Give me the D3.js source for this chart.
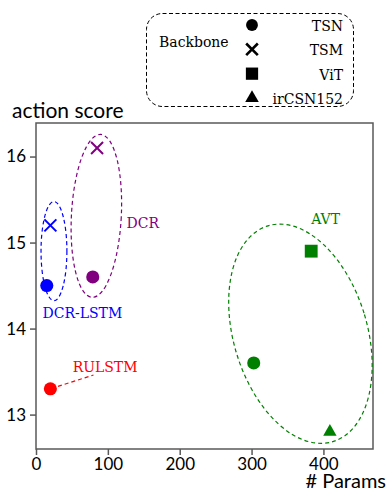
<!DOCTYPE html>
<html>
<head>
<meta charset="utf-8">
<script src="https://cdn.jsdelivr.net/npm/d3@7"></script>
<style>
    body { margin: 0; background: #fff; }
    svg text { fill: #000; }
</style>
</head>
<body>
<div id="chart"></div>
<script>
// data
const models = ["DCR-LSTM", "DCR-LSTM", "DCR", "DCR", "RULSTM", "AVT", "AVT", "AVT"];
const backbones = ["TSN", "TSM", "TSN", "TSM", "TSN", "TSN", "ViT", "irCSN152"];
const params = [15, 20, 79, 85, 20, 303, 383, 409];
const scores = [14.5, 15.2, 14.6, 16.1, 13.3, 13.6, 14.9, 12.8];

const groupNames = ["DCR-LSTM", "DCR", "AVT"];
const groupCx = [25, 84, 368];
const groupCy = [14.9, 15.31, 13.94];
const groupRx = [18, 34.7, 93];
const groupRy = [0.576, 0.948, 1.31];

const labelNames = ["DCR-LSTM", "DCR", "RULSTM", "AVT"];
const labelX = [9, 126, 51, 383];
const labelY = [14.12, 15.17, 13.5, 15.21];

const legendNames = ["TSN", "TSM", "ViT", "irCSN152"];
const xTicks = [0, 100, 200, 300, 400];
const yTicks = [13, 14, 15, 16];

const colors = {"DCR-LSTM": "#0000ff", "DCR": "#800080", "RULSTM": "#ff0000", "AVT": "#008000"};
const shapes = {"TSN": d3.symbolCircle, "TSM": d3.symbolX, "ViT": d3.symbolSquare, "irCSN152": d3.symbolTriangle};
const plotSizes = {"TSN": 135, "TSM": 95, "ViT": 165, "irCSN152": 78};
const legendSizes = {"TSN": 110, "TSM": 90, "ViT": 150, "irCSN152": 80};
const tilt = {"DCR-LSTM": 0, "DCR": 3, "AVT": -16.7};

const W = 388, H = 492;
const margin = {top: 123, right: 15, bottom: 43, left: 36};
const width = W - margin.left - margin.right;
const height = H - margin.top - margin.bottom;

const svg = d3.select("#chart").append("svg")
    .attr("width", W)
    .attr("height", H);

// legend box
const legend = svg.append("g").attr("class", "legend");
legend.append("rect")
    .attr("x", 146.5).attr("y", 13.5)
    .attr("width", 207).attr("height", 93)
    .attr("rx", 16)
    .attr("fill", "none")
    .attr("stroke", "#000")
    .attr("stroke-width", 1)
    .attr("stroke-dasharray", "4,2.5");

legend.append("text")
    .attr("x", 159).attr("y", 47)
    .attr("font-family", "DejaVu Serif")
    .attr("font-size", 14)
    .text("Backbone");

const ly = d3.scalePoint().domain(legendNames).range([25, 98]);

legendNames.forEach(name => {
    legend.append("path")
        .attr("transform", `translate(252, ${ly(name)})`)
        .attr("d", d3.symbol().type(shapes[name]).size(legendSizes[name])())
        .attr("fill", name === "TSM" ? "none" : "#000")
        .attr("stroke", name === "TSM" ? "#000" : "none")
        .attr("stroke-width", 2.6);
    legend.append("text")
        .attr("x", 343)
        .attr("y", ly(name) + 6)
        .attr("text-anchor", "end")
        .attr("font-family", "DejaVu Serif")
        .attr("font-size", 14)
        .text(name);
});

// plot area
const g = svg.append("g")
    .attr("transform", `translate(${margin.left}, ${margin.top})`);

const x = d3.scaleLinear().domain([0, 469]).range([0, width]);
const y = d3.scaleLinear().domain([12.6, 16.39]).range([height, 0]);

// frame
g.append("rect")
    .attr("width", width).attr("height", height)
    .attr("fill", "none")
    .attr("stroke", "#595959")
    .attr("stroke-width", 1.5);

const xAxis = g.append("g")
    .attr("transform", `translate(0, ${height})`)
    .call(d3.axisBottom(x).tickValues(xTicks).tickFormat(d3.format("d")).tickSize(6).tickPadding(3));
const yAxis = g.append("g")
    .call(d3.axisLeft(y).tickValues(yTicks).tickFormat(d3.format("d")).tickSize(6).tickPadding(4));

[xAxis, yAxis].forEach(ax => {
    ax.select(".domain").remove();
    ax.selectAll(".tick line").attr("stroke", "#595959").attr("stroke-width", 1.5);
    ax.selectAll(".tick text")
        .attr("font-family", "Lato")
        .attr("font-size", 17)
        .attr("fill", "#000");
});

// axis titles
svg.append("text")
    .attr("x", 12).attr("y", 118)
    .attr("font-family", "Lato")
    .attr("font-size", 21)
    .text("action score");

svg.append("text")
    .attr("x", 386).attr("y", 488)
    .attr("text-anchor", "end")
    .attr("font-family", "Lato")
    .attr("font-size", 20)
    .text("# Params");

// group ellipses
groupNames.forEach((name, i) => {
    const cx = x(groupCx[i]), cy = y(groupCy[i]);
    g.append("ellipse")
        .attr("transform", `translate(${cx}, ${cy}) rotate(${tilt[name]})`)
        .attr("rx", x(groupRx[i]) - x(0))
        .attr("ry", y(0) - y(groupRy[i]))
        .attr("fill", "none")
        .attr("stroke", colors[name])
        .attr("stroke-width", 1.2)
        .attr("stroke-dasharray", "4,3");
});

// RULSTM leader line
const ri = models.indexOf("RULSTM");
const rx0 = x(params[ri]), ry0 = y(scores[ri]);
const rx1 = x(80), ry1 = y(13.46);
const ang = Math.atan2(ry1 - ry0, rx1 - rx0);
g.append("line")
    .attr("x1", rx0 + Math.cos(ang) * 8).attr("y1", ry0 + Math.sin(ang) * 8)
    .attr("x2", rx1).attr("y2", ry1)
    .attr("stroke", colors["RULSTM"])
    .attr("stroke-width", 1.2)
    .attr("stroke-dasharray", "4,3");

// points
g.selectAll(".pt")
    .data(params.map((p, i) => ({p: p, s: scores[i], m: models[i], b: backbones[i]})))
    .join("path")
    .attr("class", "pt")
    .attr("transform", d => `translate(${x(d.p)}, ${y(d.s)})`)
    .attr("d", d => d3.symbol().type(shapes[d.b]).size(plotSizes[d.b])())
    .attr("fill", d => d.b === "TSM" ? "none" : colors[d.m])
    .attr("stroke", d => d.b === "TSM" ? colors[d.m] : "none")
    .attr("stroke-width", 2);

// group labels
labelNames.forEach((name, i) => {
    g.append("text")
        .attr("x", x(labelX[i]))
        .attr("y", y(labelY[i]))
        .attr("font-family", "DejaVu Serif")
        .attr("font-size", 14)
        .style("fill", colors[name])
        .text(name);
});
</script>
</body>
</html>
